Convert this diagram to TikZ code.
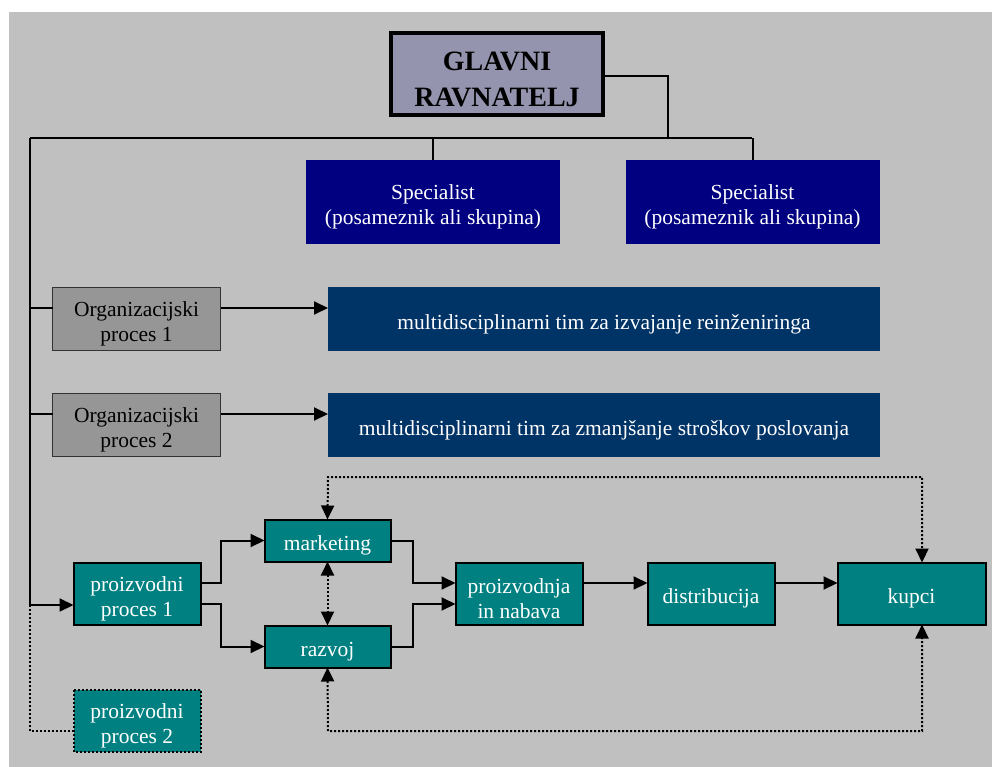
\documentclass[tikz,border=0pt]{standalone}
\usepackage{fontspec}
\setmainfont{Liberation Serif}
\usetikzlibrary{arrows.meta}
\definecolor{bgcol}{HTML}{C0C0C0}
\definecolor{chiefcol}{RGB}{148,148,174}
\definecolor{navycol}{HTML}{000080}
\definecolor{teamcol}{HTML}{003366}
\definecolor{orgcol}{HTML}{969696}
\definecolor{orgline}{HTML}{333333}
\definecolor{tealcol}{HTML}{008080}
\begin{document}
\begin{tikzpicture}[x=1pt,y=-1pt,
  every node/.style={inner sep=0pt, outer sep=0pt, align=center},
  % an invisible strut beside the text block sets the text a little below the box centre
  lift/.style={execute at begin node={\rule{0pt}{#1}}},
  txt/.style={font=\fontsize{21.5}{25}\selectfont, lift=25pt},
  two/.style={lift=50pt},
  chief/.style={draw=black, line width=4pt, fill=chiefcol,
    minimum width=212pt, minimum height=82pt,
    font=\fontsize{28}{36}\selectfont\bfseries, lift=65pt},
  specbox/.style={txt, two, fill=navycol, text=white, minimum width=254pt, minimum height=84pt},
  teambox/.style={txt, fill=teamcol, text=white, minimum width=552pt, minimum height=64pt},
  orgbox/.style={txt, two, draw=orgline, line width=1.5pt, fill=orgcol, minimum width=168pt, minimum height=63pt},
  procbox/.style={txt, draw=black, line width=2pt, fill=tealcol, text=white, minimum height=62pt},
  smallbox/.style={procbox, minimum width=126pt, minimum height=42pt},
  link/.style={line width=2pt},
  flow/.style={line width=2pt, -{Triangle[length=14pt,width=13pt]}},
  dots/.style={line width=2pt, dash pattern=on 2pt off 2pt},
  tip/.style={{Triangle[length=14pt,width=13pt]}-{Triangle[length=14pt,width=13pt]}}
]
% page and background
\useasboundingbox (0,0) rectangle (992,767);
\fill[white] (0,0) rectangle (992,767);
\fill[bgcol] (9,12) rectangle (992,767);

% boxes
\node[chief] (chief) at (497,74) {GLAVNI\\RAVNATELJ};
\node[specbox] (spec1) at (433,202) {Specialist\\(posameznik ali skupina)};
\node[specbox] (spec2) at (752.5,202) {Specialist\\(posameznik ali skupina)};
\node[orgbox] (org1) at (136.5,319) {Organizacijski\\proces 1};
\node[teambox] (team1) at (604,319) {multidisciplinarni tim za izvajanje reinženiringa};
\node[orgbox] (org2) at (136.5,425) {Organizacijski\\proces 2};
\node[teambox] (team2) at (604,425) {multidisciplinarni tim za zmanjšanje stroškov poslovanja};
\node[procbox, two, minimum width=127pt] (pp1) at (137,593.5) {proizvodni\\proces 1};
\node[smallbox] (mkt) at (327.5,540.5) {marketing};
\node[smallbox] (dev) at (327.5,646.5) {razvoj};
\node[procbox, two, minimum width=127pt] (prod) at (519,593.5) {proizvodnja\\in nabava};
\node[procbox, minimum width=127pt] (dist) at (711,593.5) {distribucija};
\node[procbox, minimum width=148pt] (cust) at (911.5,593.5) {kupci};
\node[procbox, two, draw=none, minimum width=127pt] (pp2) at (137,720.5) {proizvodni\\proces 2};
\draw[dots] (pp2.north west) rectangle (pp2.south east);

% junction points
\coordinate (trunk) at (30,138);
\coordinate (cx) at (922,0);

% organisation lines
\draw[link] (chief.east |- 0,76) -| (668,138);
\draw[link] (trunk) -- (752,138);
\draw[link] (spec1.north |- 0,138) -- (spec1.north);
\draw[link] (spec2.north |- 0,138) -- (spec2.north);
\draw[flow] (trunk) -- (30,605) -- (pp1.west |- 0,605);
\draw[link] (30,308) -- (org1.west |- 0,308);
\draw[link] (30,414) -- (org2.west |- 0,414);
\draw[flow] (org1.east |- 0,308) -- (team1.west |- 0,308);
\draw[flow] (org2.east |- 0,414) -- (team2.west |- 0,414);

% production flow
\draw[flow] (pp1.east |- 0,583) -- (221,583) |- (mkt.west);
\draw[flow] (pp1.east |- 0,604) -- (221,604) |- (dev.west);
\draw[flow] (mkt.east) -| (413,583) -- (prod.west |- 0,583);
\draw[flow] (dev.east) -| (413,604) -- (prod.west |- 0,604);
\draw[flow] (prod.east |- 0,583) -- (dist.west |- 0,583);
\draw[flow] (dist.east |- 0,583) -- (cust.west |- 0,583);

% feedback loops
\draw[dots, tip] (mkt.south) -- (dev.north);
\draw[dots, tip] (mkt.north) -- (328,477) -- (922,477) -- (cx |- cust.north);
\draw[dots, tip] (dev.south) -- (328,731) -- (922,731) -- (cx |- cust.south);
\draw[dots] (30,605) -- (30,731) -- (pp2.west |- 0,731);
\end{tikzpicture}
\end{document}
